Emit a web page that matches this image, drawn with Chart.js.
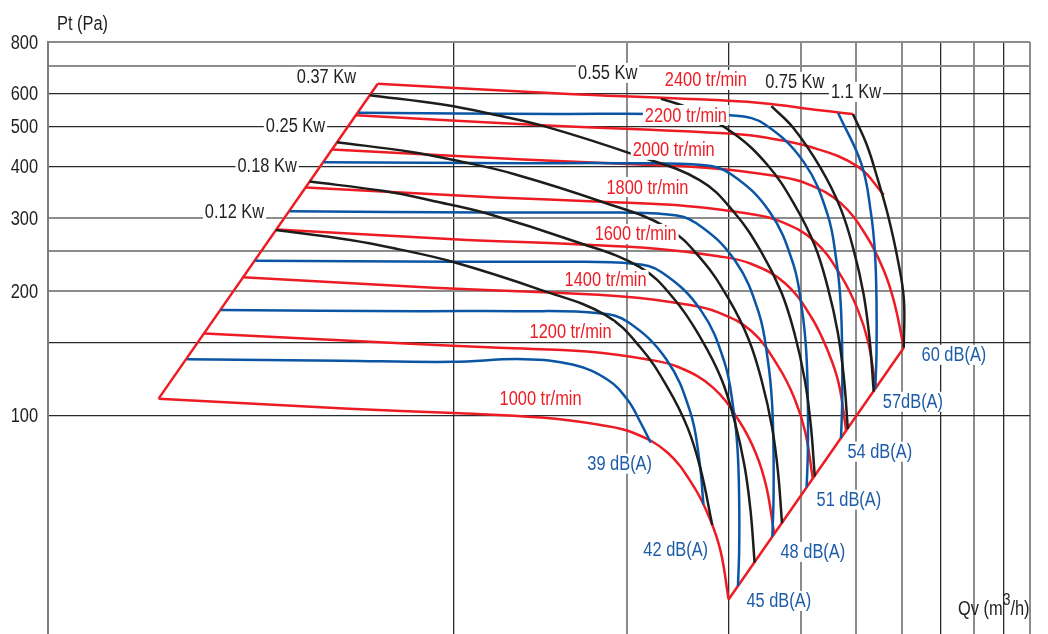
<!DOCTYPE html>
<html>
<head>
<meta charset="utf-8">
<script src="https://cdn.jsdelivr.net/npm/chart.js@4.4.1/dist/chart.umd.min.js"></script>
<style>
  html, body { margin: 0; padding: 0; background: #fff; }
</style>
</head>
<body>
<canvas id="fanChart" width="1048" height="634"></canvas>
<script>
// narrow face: Arial-metric font squeezed horizontally
const FONT = '"Liberation Sans", Arial, sans-serif';
const SQ = 0.82;
const RED = '#ed1c24', BLUE = '#0b55a5', BLACK = '#1d1d1b', INK = '#231f20', BLUE_TXT = '#1f5ca8';

// speed curves : [Qv m3/h, Pt Pa]
const rpm1000 = [[308,110],[660,104],[1000,101.5],[1420,99],[1800,95],[2050,91],[2350,81.5],[2610,67.5],[2790,56],[2910,46.7],[3000,36]];
const rpm1200 = [[370,158],[792,150],[1200,146],[1704,143],[2160,137],[2460,131],[2820,117],[3132,97],[3348,81],[3492,67],[3600,51.8]];
const rpm1400 = [[431,216],[924,204],[1400,199],[1988,194],[2520,186],[2870,178],[3290,160],[3654,132],[3906,110],[4074,91.5],[4200,70.6]];
const rpm1600 = [[493,282],[1056,266],[1600,260],[2272,253],[2880,243],[3280,233],[3760,209],[4176,173],[4464,143],[4656,120],[4800,92]];
const rpm1800 = [[554,356],[1188,337],[1800,329],[2556,321],[3240,308],[3690,295],[4230,264],[4698,218],[5022,181],[5238,151],[5400,117]];
const rpm2000 = [[616,440],[1320,416],[2000,406],[2840,396],[3600,380],[4100,364],[4700,326],[5220,270],[5580,224],[5820,187],[6040,146]];
const rpm2200 = [[678,532],[1452,503],[2200,491],[3124,479],[3412,472],[4167,446],[5028,400],[5579,342]];
const rpm2400 = [[739,634],[1584,599],[2400,585],[3408,570],[4320,547],[4930,536]];
const speedNames = ['1000 tr/min','1200 tr/min','1400 tr/min','1600 tr/min','1800 tr/min','2000 tr/min','2200 tr/min','2400 tr/min'];
const speedTagAt = [[1416,110],[1596,160],[1836,213],[2070,275],[2170,357],[2410,439],[2530,533],[2740,648]];

// working range borders
const leftEdge = [[308,110],[739,634]];
const rightEdge = [[3000,36],[6040,146]];

// absorbed power curves
const kw012 = [[492,281],[662,266],[809,252],[996,235.5],[1416,201.5],[1836,175],[2112,146],[2352,117],[2548,93.5],[2685,74],[2811,54.5]];
const kw018 = [[563,368],[758,349],[926,330],[1140,308.6],[1621,264],[2102,229],[2418,191],[2692,153],[2917,122.5],[3074,97],[3198,75.6],[3276,58.8],[3329,44.2]];
const kw025 = [[628,458],[845,434],[1033,411],[1272,384],[1808,329],[2345,285],[2697,238],[3004,191],[3254,152.5],[3429,120.7],[3568,94.1],[3655,73.2],[3714,55]];
const kw037 = [[716,595],[964,564],[1178,534],[1450,499],[2061,427],[2673,371],[3074,309],[3424,248],[3709,198],[3909,157],[4067,122.3],[4166,95.1],[4233,71.4]];
const kw055 = [[2290,583],[2548,555],[3050,483],[3508,403],[3907,323],[4233,258],[4460,204],[4641,159],[4754,124],[4831,93]];
const kw075 = [[3560,560],[3890,495],[4332,397],[4693,317],[4946,251],[5147,196],[5272,152],[5357,114.3]];
const kw110 = [[4930,536],[5212,451],[5446,372],[5668,306],[5899,238],[6043,191],[6040,146]];
const powerNames = ['0.12 Kw','0.18 Kw','0.25 Kw','0.37 Kw','0.55 Kw','0.75 Kw','1.1 Kw'];
const powerTagAt = [[417,311],[475,402],[532,502],[602,659],[1851,674],[3908,641],[4990,606]];

// noise curves
const db39 = [[345,137],[636,135.8],[996,135],[1323,137],[1615,132.8],[1851,122.2],[2004,109.3],[2112,96.2],[2198,86.1]];
const db42 = [[395,180],[872,179],[1285,179],[1790,177],[2005,168.7],[2341,136.8],[2572,102.6],[2668,78.6],[2714,61]];
const db45 = [[453,237],[1000,235.5],[1474,235.5],[2053,233],[2300,222],[2685,180],[2950,135],[3060,103.4],[3110,82.8],[3130,62.7],[3130,47.5],[3115,38.8]];
const db48 = [[520,311.8],[1147,309.8],[1691,309.8],[2355,306.5],[2638,292],[3080,236.8],[3384,177.6],[3510,136],[3567,108.9],[3590,82.5],[3590,62.5],[3573,51]];
const db51 = [[596,410],[1316,407.6],[1939,407.6],[2701,403.3],[3026,384],[3532,311.5],[3881,233.7],[4026,179],[4091,143.3],[4118,108.5],[4118,82.2],[4098,67.2]];
const db54 = [[684,539.6],[1509,536.2],[2224,536.2],[3098,530.5],[3471,505.5],[4052,410],[4452,307.4],[4618,235.4],[4693,188.5],[4723,142.8],[4723,108.2],[4701,88.3]];
const db57 = [[4647,539],[5106,404],[5296,310],[5383,248],[5417,188],[5417,142.3],[5391,116.2]];
const noiseNames = ['39 dB(A)','42 dB(A)','45 dB(A)','48 dB(A)','51 dB(A)','54 dB(A)','57dB(A)','60 dB(A)'];
const noiseTagAt = [[1942,76.6],[2429,47.5],[3666,35.7],[4201,46.9],[4851,62.7],[5489,81.9],[6265,108.1],[7380,140.4]];

// axes
const xGrid = [1000,2000,3000,4000,5000,6000,7000,8000,9000,10000];
const xDark = [1000,3000,7000,9000];
const yGrid = [100,150,200,250,300,400,500,600,700,800];
const yDark = [100,150,400,500,600];
const yLabels = [100,200,300,400,500,600,800];

function pts(arr) {
	return arr.map(p => ({ x: p[0], y: p[1] }));
}

function curve(arr, color, order, tension) {
	return {
		data: pts(arr),
		borderColor: color,
		borderWidth: 2.5,
		pointRadius: 0,
		tension: tension === undefined ? 0.4 : tension,
		fill: false,
		order: order
	};
}

const datasets = [];
[kw012, kw018, kw025, kw037, kw055, kw075, kw110].forEach(c => datasets.push(curve(c, BLACK, 1)));
[db39, db42, db45, db48, db51, db54, db57].forEach(c => datasets.push(curve(c, BLUE, 2)));
[rpm1000, rpm1200, rpm1400, rpm1600, rpm1800, rpm2000, rpm2200, rpm2400].forEach(c => datasets.push(curve(c, RED, 3)));
datasets.push(curve(leftEdge, RED, 3, 0));
datasets.push(curve(rightEdge, RED, 3, 0));

// squeezed text, returns drawn width
function say(ctx, txt, x, y, align, size) {
	ctx.font = size + 'px ' + FONT;
	const w = ctx.measureText(txt).width * SQ;
	let left = x;
	if (align === 'center') left = x - w / 2;
	if (align === 'right') left = x - w;
	ctx.save();
	ctx.translate(left, y);
	ctx.scale(SQ, 1);
	ctx.textAlign = 'left';
	ctx.textBaseline = 'middle';
	ctx.fillText(txt, 0, 0);
	ctx.restore();
	return w;
}

function textWidth(ctx, txt, size) {
	ctx.font = size + 'px ' + FONT;
	return ctx.measureText(txt).width * SQ;
}

const tagPlugin = {
	id: 'tags',
	afterDatasetsDraw(chart) {
		const ctx = chart.ctx;
		const xs = chart.scales.x, ys = chart.scales.y;
		ctx.save();

		function put(txt, at, color) {
			const px = xs.getPixelForValue(at[0]);
			const py = ys.getPixelForValue(at[1]);
			const w = textWidth(ctx, txt, 20);
			ctx.fillStyle = '#fff';
			ctx.fillRect(px - w / 2 - 2, py - 10, w + 4, 20);
			ctx.fillStyle = color;
			say(ctx, txt, px, py + 1, 'center', 20);
		}

		speedNames.forEach((t, i) => put(t, speedTagAt[i], RED));
		powerNames.forEach((t, i) => put(t, powerTagAt[i], INK));
		noiseNames.forEach((t, i) => put(t, noiseTagAt[i], BLUE_TXT));

		// y tick labels
		ctx.fillStyle = INK;
		yLabels.forEach(v => say(ctx, String(v), 38, ys.getPixelForValue(v) + 1, 'right', 20));

		// axis titles
		say(ctx, 'Pt (Pa)', 57, 24, 'left', 20);
		let x = 958;
		const base = 609;
		x += say(ctx, 'Qv (m', x, base, 'left', 20);
		x += say(ctx, '3', x, base - 9, 'left', 17);
		say(ctx, '/h)', x, base, 'left', 20);
		ctx.restore();
	}
};

new Chart(document.getElementById('fanChart'), {
	type: 'line',
	data: { datasets: datasets },
	options: {
		responsive: false,
		animation: false,
		devicePixelRatio: 1,
		layout: { padding: { top: 42, right: 18, bottom: 0, left: 0 } },
		plugins: {
			legend: { display: false },
			tooltip: { enabled: false }
		},
		scales: {
			x: {
				type: 'logarithmic',
				min: 198,
				max: 10000,
				afterBuildTicks: s => { s.ticks = xGrid.map(v => ({ value: v })); },
				afterFit: s => { s.height = 0; s.paddingLeft = 0; s.paddingRight = 0; },
				ticks: { display: false },
				grid: {
					drawTicks: false,
					color: c => xDark.includes(c.tick.value) ? '#2a2a2a' : '#8c8c8c',
					lineWidth: c => xDark.includes(c.tick.value) ? 1.3 : 2
				},
				border: { display: false }
			},
			y: {
				type: 'logarithmic',
				min: 29.7,
				max: 800,
				afterBuildTicks: s => { s.ticks = yGrid.map(v => ({ value: v })); },
				afterFit: s => { s.width = 48; s.paddingTop = 0; s.paddingBottom = 0; },
				ticks: { display: false },
				grid: {
					drawTicks: false,
					color: c => yDark.includes(c.tick.value) ? '#2a2a2a' : '#8c8c8c',
					lineWidth: c => yDark.includes(c.tick.value) ? 1.3 : 2
				},
				border: { color: '#7d7d7d', width: 2 }
			}
		}
	},
	plugins: [tagPlugin]
});
</script>
</body>
</html>
